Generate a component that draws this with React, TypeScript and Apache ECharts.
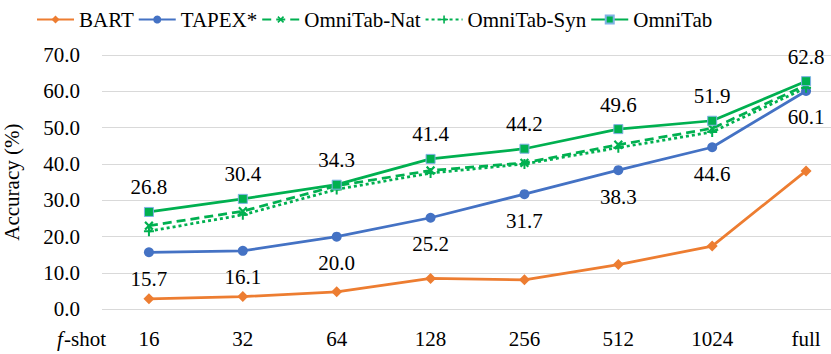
import React, { useEffect, useRef } from "react";
import * as echarts from "echarts";

const categories = ["16", "32", "64", "128", "256", "512", "1024", "full"];
const bart = [2.9, 3.5, 4.8, 8.5, 8.1, 12.3, 17.4, 38.1];
const tapex = [15.7, 16.1, 20.0, 25.2, 31.7, 38.3, 44.6, 60.1];
const omniNat = [23.0, 27.0, 34.0, 38.2, 40.3, 45.3, 49.8, 61.7];
const omniSyn = [21.5, 26.0, 33.0, 37.5, 40.0, 44.5, 48.8, 61.0];
const omniTab = [26.8, 30.4, 34.3, 41.4, 44.2, 49.6, 51.9, 62.8];
const yTicks = { min: 0, max: 70, interval: 10 };

const FONT = "Liberation Serif";
const PLUS = "path://M4,0H6V4H10V6H6V10H4V6H0V4H4Z";
const GREEN = "#00B050";

export default function App() {
  const ref = useRef<HTMLDivElement>(null);
  useEffect(() => {
    if (!ref.current) return;
    document.body.style.margin = "0";
    const chart = echarts.init(ref.current, null, { renderer: "svg" });
    const lbl = { fontFamily: FONT, fontSize: 21, color: "#000" };
    chart.setOption({
      animation: false,
      legend: {
        left: 31,
        top: 4,
        itemGap: 4,
        itemWidth: 37,
        itemHeight: 10,
        textStyle: { fontFamily: FONT, fontSize: 21, color: "#000" },
        data: ["BART", "TAPEX*", "OmniTab-Nat", "OmniTab-Syn", "OmniTab"],
      },
      grid: { left: 102, top: 55, width: 751, height: 254.3, outerBoundsMode: "none", containLabel: false },
      xAxis: {
        type: "category",
        data: categories,
        boundaryGap: true,
        axisLine: { show: false },
        axisTick: { show: false },
        axisLabel: { ...lbl, margin: 19 },
      },
      yAxis: {
        type: "value",
        min: yTicks.min,
        max: yTicks.max,
        interval: yTicks.interval,
        name: "Accuracy (%)",
        nameLocation: "middle",
        nameGap: 80,
        nameTextStyle: { fontFamily: FONT, fontSize: 21, color: "#000" },
        axisLabel: { ...lbl, margin: 22, formatter: (v: number) => v.toFixed(1) },
        splitLine: { lineStyle: { color: "#D9D9D9", width: 1.2 } },
        axisLine: { show: false },
        axisTick: { show: false },
      },
      graphic: [
        {
          type: "text",
          left: 57,
          top: 328,
          style: { text: "f", fontFamily: FONT, fontSize: 21, fontStyle: "italic", fill: "#000" },
        },
        {
          type: "text",
          left: 64,
          top: 328,
          style: { text: "-shot", fontFamily: FONT, fontSize: 21, fill: "#000" },
        },
      ],
      series: [
        {
          name: "BART",
          type: "line",
          data: bart,
          symbol: "diamond",
          symbolSize: 11,
          lineStyle: { color: "#ED7D31", width: 2.75 },
          itemStyle: { color: "#ED7D31" },
        },
        {
          name: "TAPEX*",
          type: "line",
          data: tapex,
          symbol: "circle",
          symbolSize: 10,
          lineStyle: { color: "#4472C4", width: 2.75 },
          itemStyle: { color: "#4472C4" },
          label: { show: true, position: "bottom", distance: 11, ...lbl, formatter: (p: any) => p.value.toFixed(1) },
        },
        {
          name: "OmniTab-Nat",
          type: "line",
          data: omniNat,
          symbol: PLUS,
          symbolRotate: 45,
          symbolSize: 11,
          lineStyle: { color: GREEN, width: 2.75, type: [9, 5] },
          itemStyle: { color: GREEN },
        },
        {
          name: "OmniTab-Syn",
          type: "line",
          data: omniSyn,
          symbol: PLUS,
          symbolSize: 10,
          lineStyle: { color: GREEN, width: 2.75, type: [3, 3] },
          itemStyle: { color: GREEN },
        },
        {
          name: "OmniTab",
          type: "line",
          data: omniTab,
          symbol: "rect",
          symbolSize: 9,
          lineStyle: { color: GREEN, width: 2.75 },
          itemStyle: { color: GREEN, borderColor: "#7FB2E5", borderWidth: 1 },
          label: { show: true, position: "top", distance: 9, ...lbl, formatter: (p: any) => p.value.toFixed(1) },
        },
      ],
    });
    return () => chart.dispose();
  }, []);
  return (
    <div style={{ fontFamily: FONT }}>
      <div ref={ref} style={{ width: 831, height: 354 }} />
    </div>
  );
}
